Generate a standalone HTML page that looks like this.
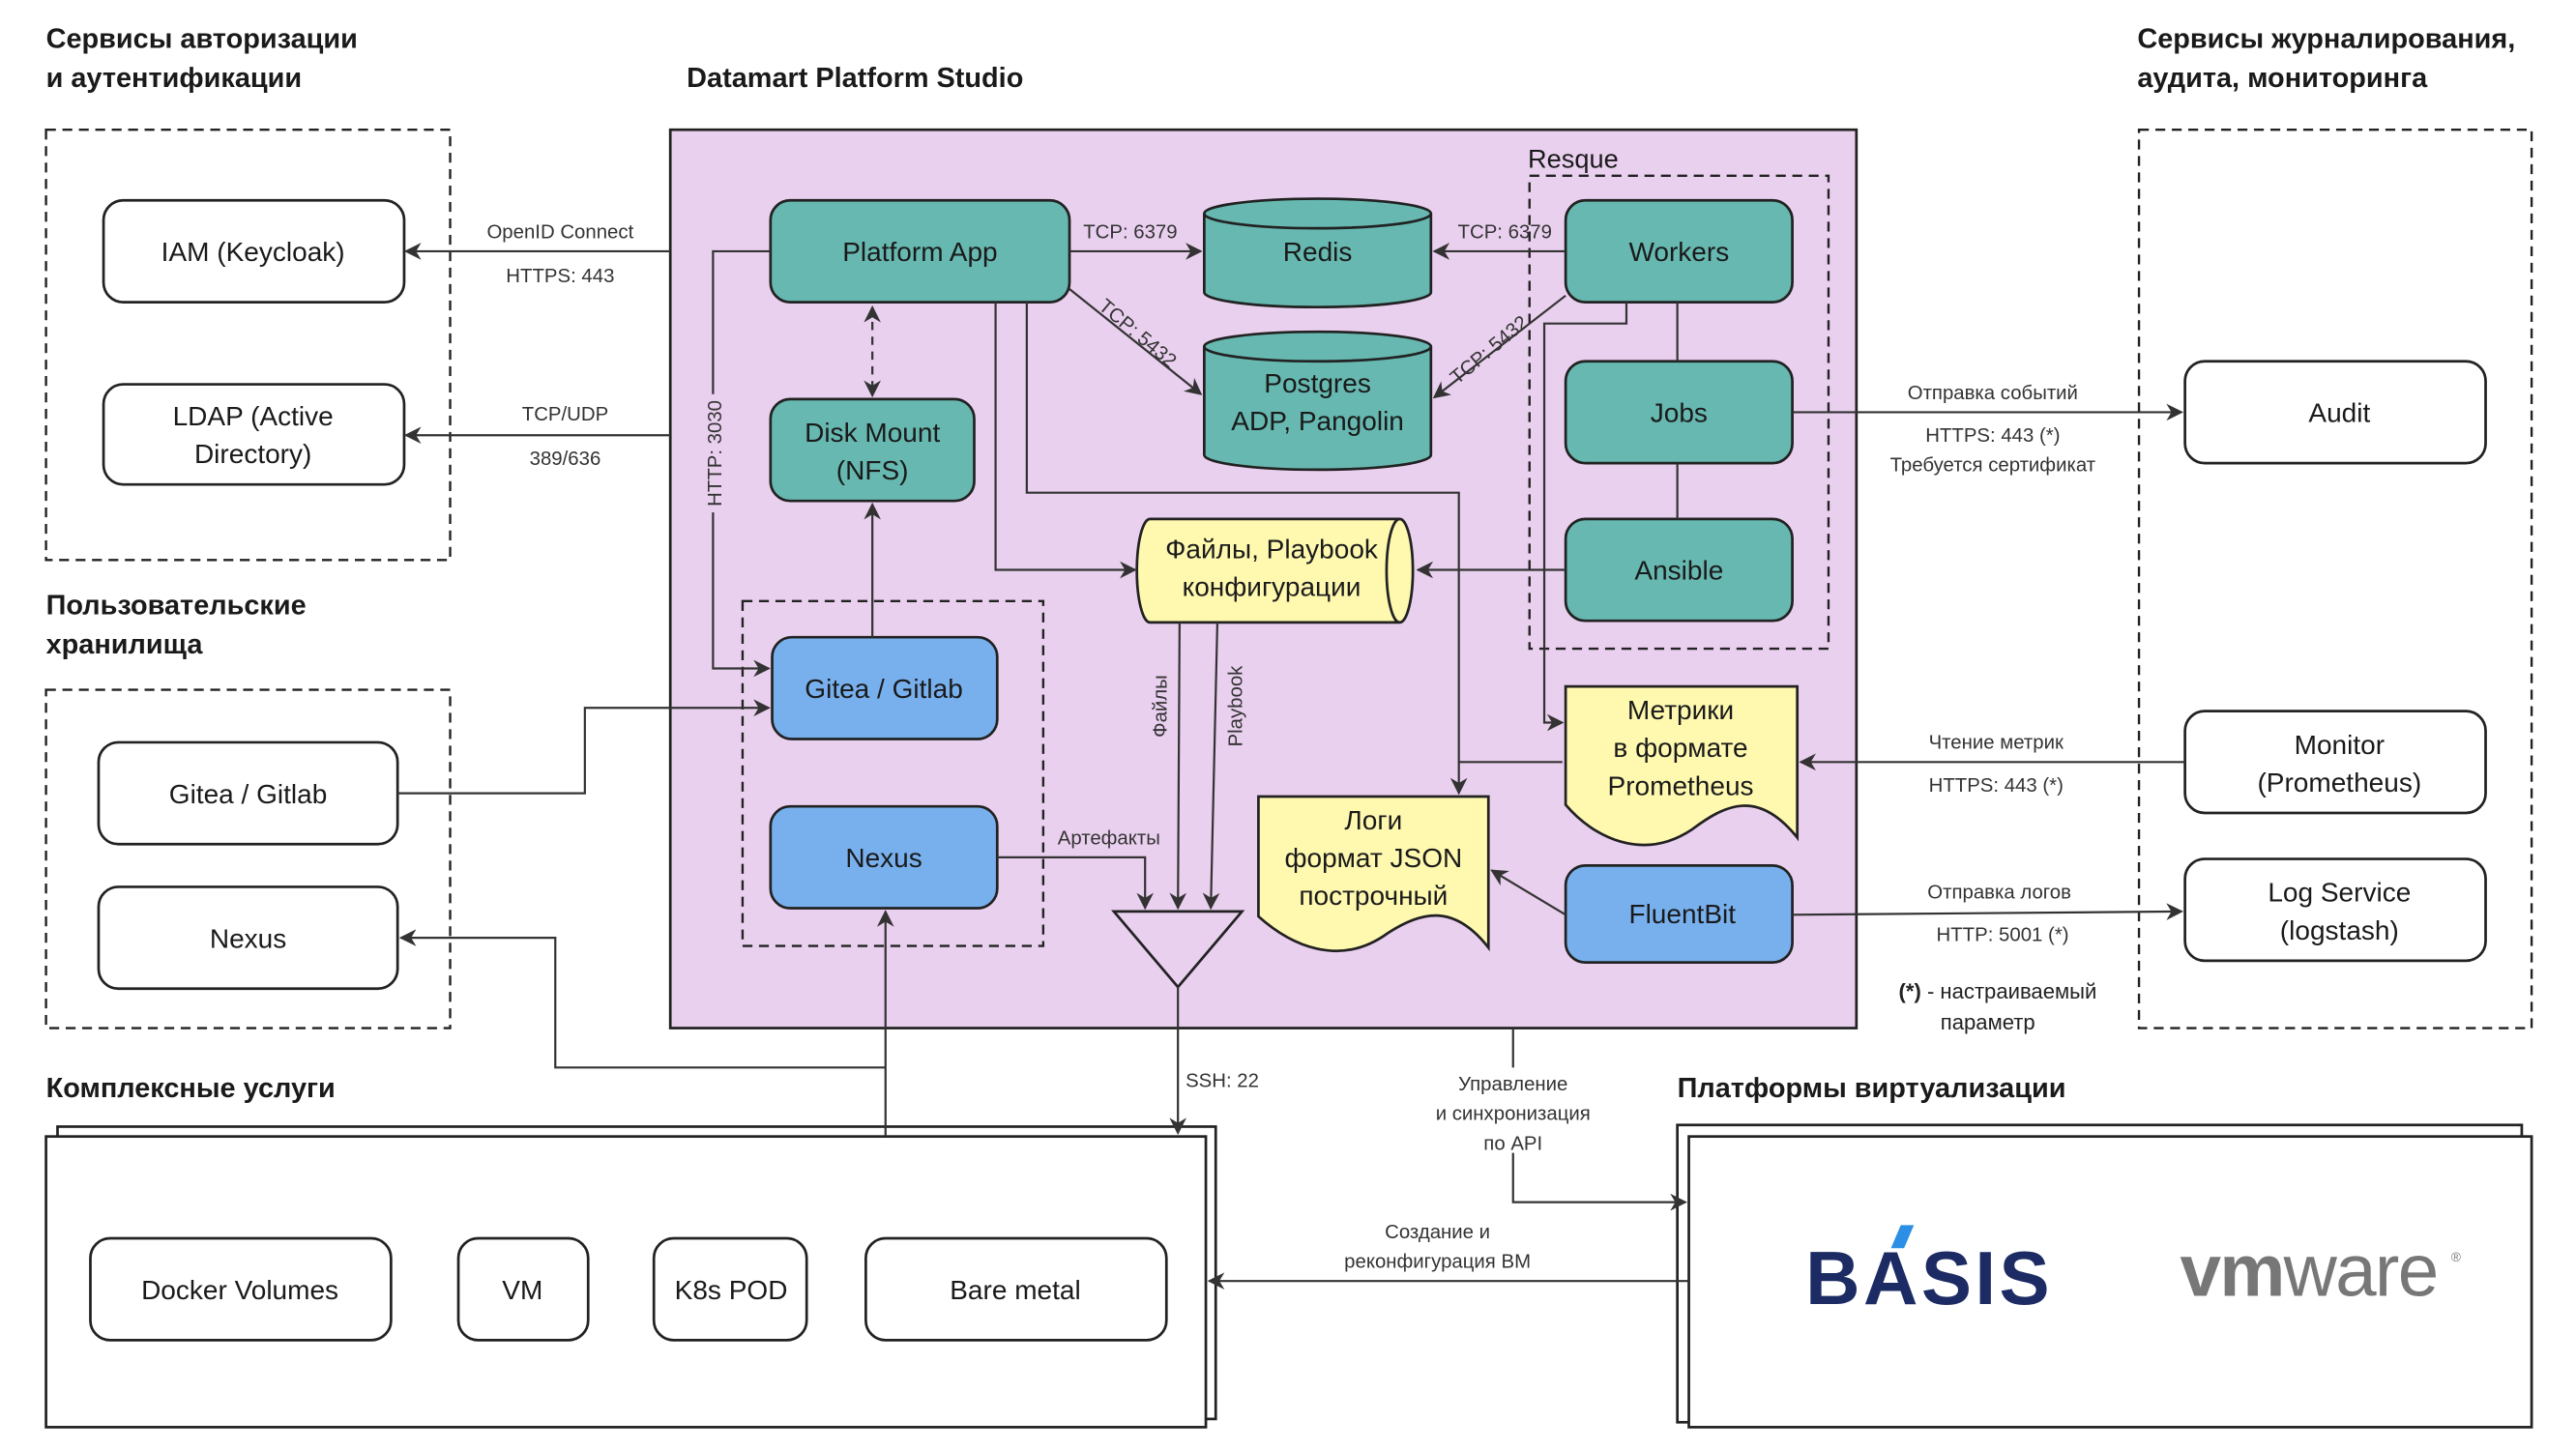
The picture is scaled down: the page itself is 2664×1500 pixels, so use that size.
<!DOCTYPE html>
<html><head><meta charset="utf-8"><style>
html,body{margin:0;padding:0;background:#fff;}
svg{display:block;}
text{font-family:"Liberation Sans","DejaVu Sans",sans-serif;fill:#1a1a1a;}
.t{font-size:16.5px;text-anchor:middle;}
.e{font-size:12px;text-anchor:middle;fill:#333;}
.h{font-size:17px;font-weight:bold;}
.box{stroke:#222;stroke-width:1.6;}
.ln{stroke:#333;stroke-width:1.3;fill:none;}
.dash{stroke:#222;stroke-width:1.4;fill:none;stroke-dasharray:6 4;}
</style></head><body>
<svg width="2664" height="1500" viewBox="0 0 1568 882.9" xmlns="http://www.w3.org/2000/svg">
<defs>
<marker id="a" viewBox="0 0 10 10" refX="9" refY="5" markerWidth="8" markerHeight="8" orient="auto-start-reverse"><path d="M0,0 L10,5 L0,10 L3,5 z" fill="#333"/></marker>
</defs>
<text class="h" x="28" y="29">Сервисы авторизации</text>
<text class="h" x="28" y="53">и аутентификации</text>
<text class="h" x="418" y="53">Datamart Platform Studio</text>
<text class="h" x="1301" y="29">Сервисы журналирования,</text>
<text class="h" x="1301" y="53">аудита, мониторинга</text>
<text class="h" x="28" y="374">Пользовательские</text>
<text class="h" x="28" y="398">хранилища</text>
<text class="h" x="28" y="668">Комплексные услуги</text>
<text class="h" x="1021" y="668">Платформы виртуализации</text>

<rect class="dash" x="28" y="79" width="246" height="262"/>
<rect class="dash" x="28" y="420" width="246" height="206"/>
<rect class="dash" x="1302" y="79" width="239" height="547"/>

<rect x="408" y="79" width="722" height="547" fill="#ead0ef" stroke="#222" stroke-width="1.6"/>
<rect class="dash" x="931" y="107" width="182" height="288"/>
<text x="930" y="102" style="font-size:16px">Resque</text>
<rect class="dash" x="452" y="366" width="183" height="210"/>

<rect class="box" x="63" y="122" width="183" height="62" rx="12" fill="#fff"/>
<text class="t" x="154" y="159">IAM (Keycloak)</text>
<rect class="box" x="63" y="234" width="183" height="61" rx="12" fill="#fff"/>
<text class="t" x="154" y="259">LDAP (Active</text>
<text class="t" x="154" y="282">Directory)</text>

<rect class="box" x="60" y="452" width="182" height="62" rx="12" fill="#fff"/>
<text class="t" x="151" y="489">Gitea / Gitlab</text>
<rect class="box" x="60" y="540" width="182" height="62" rx="12" fill="#fff"/>
<text class="t" x="151" y="577">Nexus</text>

<rect class="box" x="1330" y="220" width="183" height="62" rx="12" fill="#fff"/>
<text class="t" x="1424" y="257">Audit</text>
<rect class="box" x="1330" y="433" width="183" height="62" rx="12" fill="#fff"/>
<text class="t" x="1424" y="459">Monitor</text>
<text class="t" x="1424" y="482">(Prometheus)</text>
<rect class="box" x="1330" y="523" width="183" height="62" rx="12" fill="#fff"/>
<text class="t" x="1424" y="549">Log Service</text>
<text class="t" x="1424" y="572">(logstash)</text>

<rect class="box" x="469" y="122" width="182" height="62" rx="12" fill="#66b8b0"/>
<text class="t" x="560" y="159">Platform App</text>
<rect class="box" x="953" y="122" width="138" height="62" rx="12" fill="#66b8b0"/>
<text class="t" x="1022" y="159">Workers</text>
<rect class="box" x="953" y="220" width="138" height="62" rx="12" fill="#66b8b0"/>
<text class="t" x="1022" y="257">Jobs</text>
<rect class="box" x="953" y="316" width="138" height="62" rx="12" fill="#66b8b0"/>
<text class="t" x="1022" y="353">Ansible</text>
<rect class="box" x="469" y="243" width="124" height="62" rx="12" fill="#66b8b0"/>
<text class="t" x="531" y="269">Disk Mount</text>
<text class="t" x="531" y="292">(NFS)</text>

<path class="box" fill="#66b8b0" d="M733,130 A69,9 0 0 1 871,130 L871,178 A69,9 0 0 1 733,178 Z"/>
<path class="box" fill="none" d="M733,130 A69,9 0 0 0 871,130"/>
<text class="t" x="802" y="159">Redis</text>
<path class="box" fill="#66b8b0" d="M733,211 A69,9 0 0 1 871,211 L871,277 A69,9 0 0 1 733,277 Z"/>
<path class="box" fill="none" d="M733,211 A69,9 0 0 0 871,211"/>
<text class="t" x="802" y="239">Postgres</text>
<text class="t" x="802" y="262">ADP, Pangolin</text>

<path class="box" fill="#fff9b0" d="M700,316 L852,316 A8,31.5 0 0 1 852,379 L700,379 A8,31.5 0 0 1 700,316 Z"/>
<path class="box" fill="none" d="M852,316 A8,31.5 0 0 0 852,379"/>
<text class="t" x="774" y="340">Файлы, Playbook</text>
<text class="t" x="774" y="363">конфигурации</text>

<rect class="box" x="470" y="388" width="137" height="62" rx="12" fill="#78b0ee"/>
<text class="t" x="538" y="425">Gitea / Gitlab</text>
<rect class="box" x="469" y="491" width="138" height="62" rx="12" fill="#78b0ee"/>
<text class="t" x="538" y="528">Nexus</text>
<rect class="box" x="953" y="527" width="138" height="59" rx="12" fill="#78b0ee"/>
<text class="t" x="1024" y="562">FluentBit</text>

<path class="box" fill="#fff9b0" d="M953,418 L1094,418 L1094,510 C1070,480 1050,490 1030,505 C1000,525 970,510 953,490 Z"/>
<text class="t" x="1023" y="438">Метрики</text>
<text class="t" x="1023" y="461">в формате</text>
<text class="t" x="1023" y="484">Prometheus</text>
<path class="box" fill="#fff9b0" d="M766,485 L906,485 L906,577 C885,550 865,555 845,568 C815,590 785,575 766,558 Z"/>
<text class="t" x="836" y="505">Логи</text>
<text class="t" x="836" y="528">формат JSON</text>
<text class="t" x="836" y="551">построчный</text>

<path class="box" fill="none" d="M678,555 L756,555 L717,601 Z"/>

<rect class="box" x="35" y="686" width="705" height="178" fill="#fff"/>
<rect class="box" x="28" y="692" width="706" height="177" fill="#fff"/>
<rect class="box" x="55" y="754" width="183" height="62" rx="12" fill="#fff"/>
<text class="t" x="146" y="791">Docker Volumes</text>
<rect class="box" x="279" y="754" width="79" height="62" rx="12" fill="#fff"/>
<text class="t" x="318" y="791">VM</text>
<rect class="box" x="398" y="754" width="93" height="62" rx="12" fill="#fff"/>
<text class="t" x="445" y="791">K8s POD</text>
<rect class="box" x="527" y="754" width="183" height="62" rx="12" fill="#fff"/>
<text class="t" x="618" y="791">Bare metal</text>

<rect class="box" x="1021" y="685" width="514" height="181" fill="#fff"/>
<rect class="box" x="1028" y="692" width="513" height="177" fill="#fff"/>
<text x="1099" y="794" style="font-size:46px;font-weight:bold;fill:#1c2b63;letter-spacing:2px">BASIS</text>
<path d="M1157,746 L1165,746 L1159,760 L1151,760 Z" fill="#2b8fe6"/>
<text x="1327" y="789" style="font-size:45px;fill:#777;letter-spacing:-1px"><tspan font-weight="bold">vm</tspan>ware</text>
<text x="1492" y="768" style="font-size:8px;fill:#777">®</text>

<path class="ln" d="M408,153 L247,153" marker-end="url(#a)"/>
<text class="e" x="341" y="145">OpenID Connect</text>
<text class="e" x="341" y="172">HTTPS: 443</text>
<path class="ln" d="M408,265 L247,265" marker-end="url(#a)"/>
<text class="e" x="344" y="256">TCP/UDP</text>
<text class="e" x="344" y="283">389/636</text>
<path class="ln" d="M469,153 L434,153 L434,407 L468,407" marker-end="url(#a)"/>
<rect x="428" y="240" width="12" height="72" fill="#ead0ef"/>
<text class="e" transform="translate(439,276) rotate(-90)">HTTP: 3030</text>
<path class="ln" d="M651,153 L731,153" marker-end="url(#a)"/>
<text class="e" x="688" y="145">TCP: 6379</text>
<path class="ln" d="M651,176 L731,240" marker-end="url(#a)"/>
<text class="e" transform="translate(690,206) rotate(40)">TCP: 5432</text>
<path class="ln" d="M953,153 L873,153" marker-end="url(#a)"/>
<text class="e" x="916" y="145">TCP: 6379</text>
<path class="ln" d="M953,180 L873,242" marker-end="url(#a)"/>
<text class="e" transform="translate(909,216) rotate(-40)">TCP: 5432</text>
<path class="ln" d="M1021,184 L1021,220 M1021,282 L1021,316"/>
<path class="ln" d="M953,347 L863,347" marker-end="url(#a)"/>
<path class="ln" d="M990,184 L990,197 L940,197 L940,440 L951,440" marker-end="url(#a)"/>
<path class="ln" d="M606,184 L606,347 L691,347" marker-end="url(#a)"/>
<path class="ln" d="M625,184 L625,300 L888,300 L888,464 L951,464"/>
<path class="ln" d="M888,464 L888,483" marker-end="url(#a)"/>
<path class="ln" d="M531,187 L531,241" stroke-dasharray="5 4" marker-start="url(#a)" marker-end="url(#a)"/>
<path class="ln" d="M531,388 L531,307" marker-end="url(#a)"/>
<path class="ln" d="M242,483 L356,483 L356,431 L468,431" marker-end="url(#a)"/>
<path class="ln" d="M539,692 L539,555" marker-end="url(#a)"/>
<path class="ln" d="M539,650 L338,650 L338,571 L244,571" marker-end="url(#a)"/>
<path class="ln" d="M607,522 L697,522 L697,553" marker-end="url(#a)"/>
<text class="e" x="675" y="514">Артефакты</text>
<path class="ln" d="M718,379 L717,553" marker-end="url(#a)"/>
<path class="ln" d="M741,379 L737,553" marker-end="url(#a)"/>
<text class="e" transform="translate(710,430) rotate(-90)">Файлы</text>
<text class="e" transform="translate(756,430) rotate(-90)">Playbook</text>
<path class="ln" d="M717,601 L717,690" marker-end="url(#a)"/>
<text class="e" x="744" y="662">SSH: 22</text>
<path class="ln" d="M1091,251 L1328,251" marker-end="url(#a)"/>
<text class="e" x="1213" y="243">Отправка событий</text>
<text class="e" x="1213" y="269">HTTPS: 443 (*)</text>
<text class="e" x="1213" y="287">Требуется сертификат</text>
<path class="ln" d="M1330,464 L1096,464" marker-end="url(#a)"/>
<text class="e" x="1215" y="456">Чтение метрик</text>
<text class="e" x="1215" y="482">HTTPS: 443 (*)</text>
<path class="ln" d="M1091,557 L1328,555" marker-end="url(#a)"/>
<text class="e" x="1217" y="547">Отправка логов</text>
<text class="e" x="1219" y="573">HTTP: 5001 (*)</text>
<text class="e" x="1216" y="608" style="font-size:13px;fill:#222"><tspan font-weight="bold">(*)</tspan> - настраиваемый</text>
<text class="e" x="1210" y="627" style="font-size:13px;fill:#222">параметр</text>
<path class="ln" d="M953,557 L908,530" marker-end="url(#a)"/>
<path class="ln" d="M921,626 L921,650 M921,702 L921,732 L1026,732" marker-end="url(#a)"/>
<text class="e" x="921" y="664">Управление</text>
<text class="e" x="921" y="682">и синхронизация</text>
<text class="e" x="921" y="700">по API</text>
<path class="ln" d="M1028,780 L736,780" marker-end="url(#a)"/>
<text class="e" x="875" y="754">Создание и</text>
<text class="e" x="875" y="772">реконфигурация ВМ</text>
</svg>
</body></html>
